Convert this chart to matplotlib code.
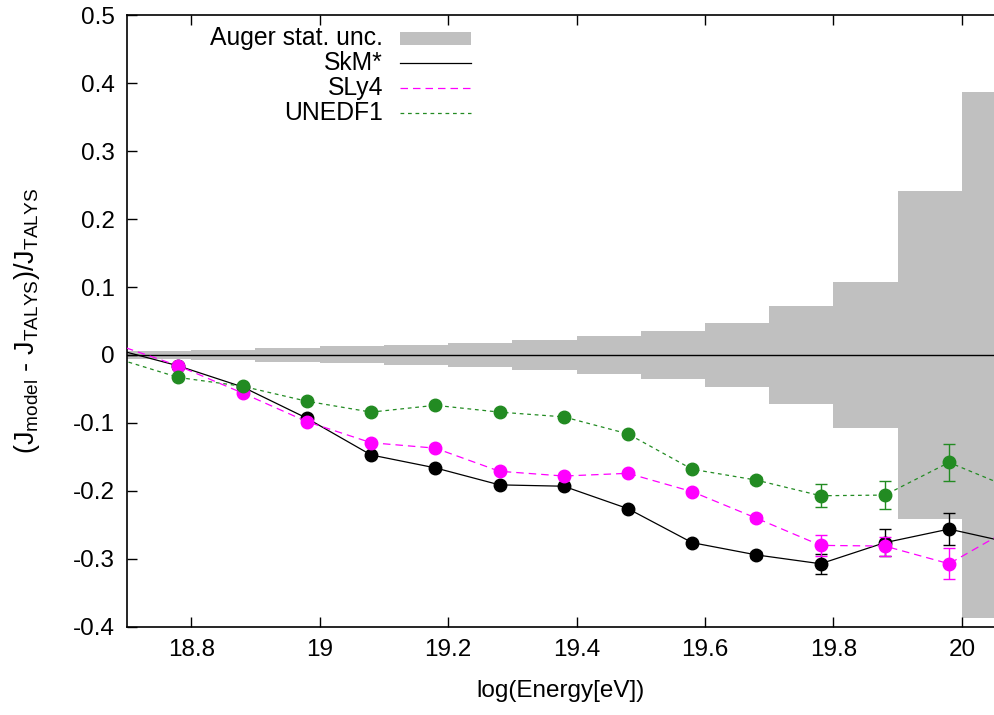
import numpy as np
import matplotlib.pyplot as plt
from matplotlib.patches import Rectangle
from matplotlib.lines import Line2D

plt.rcParams['font.family'] = 'Liberation Sans'
plt.rcParams['mathtext.fontset'] = 'custom'
plt.rcParams['mathtext.rm'] = 'Liberation Sans'
plt.rcParams['mathtext.it'] = 'Liberation Sans'

# Auger statistical uncertainty (symmetric band), bins of 0.1 in log E
unc_edges = np.round(np.arange(18.7, 20.15, 0.1), 2)
unc_half = [0.006, 0.008, 0.010, 0.0125, 0.014, 0.0176, 0.022, 0.028,
            0.035, 0.0475, 0.0725, 0.108, 0.241, 0.387]

# model points (first and last lie just outside the visible range)
logE = [18.68, 18.78, 18.88, 18.98, 19.08, 19.18, 19.28, 19.38, 19.48,
        19.58, 19.68, 19.78, 19.88, 19.98, 20.08]
skm = [0.009, -0.016, -0.047, -0.093, -0.147, -0.166, -0.191, -0.193, -0.226,
       -0.276, -0.294, -0.307, -0.276, -0.256, -0.277]
sly4 = [0.0165, -0.016, -0.056, -0.098, -0.129, -0.137, -0.171, -0.178, -0.174,
        -0.201, -0.240, -0.280, -0.281, -0.307, -0.253]
unedf1 = [-0.004, -0.033, -0.046, -0.068, -0.084, -0.074, -0.084, -0.091, -0.116,
          -0.168, -0.184, -0.207, -0.206, -0.158, -0.197]

skm_err = [0.001, 0.001, 0.001, 0.001, 0.002, 0.002, 0.002, 0.002, 0.003,
           0.003, 0.004, 0.015, 0.020, 0.024, 0.030]
sly4_err = [0.001, 0.001, 0.001, 0.001, 0.002, 0.002, 0.002, 0.002, 0.003,
            0.003, 0.004, 0.015, 0.014, 0.023, 0.030]
unedf1_err = [0.001, 0.001, 0.001, 0.001, 0.002, 0.002, 0.002, 0.002, 0.003,
              0.003, 0.004, 0.017, 0.021, 0.027, 0.030]

fig = plt.figure(figsize=(9.94, 7.15), dpi=100)
ax = fig.add_axes([0.1278, 0.1231, 0.8722, 0.8559])

band_col = '#c0c0c0'
ax.stairs(unc_half, unc_edges, baseline=-np.array(unc_half), fill=True,
          color=band_col, lw=0, zorder=1)
ax.axhline(0, color='black', lw=1.0, zorder=2)

ax.errorbar(logE, skm, yerr=skm_err, color='black', lw=0.9, marker='o', ms=9,
            capsize=4, elinewidth=1.0, capthick=1.0, zorder=3)
ax.errorbar(logE, sly4, yerr=sly4_err, color='#ff00ff', lw=0.9, ls=(0, (6, 4)),
            marker='o', ms=9, capsize=4, elinewidth=1.0, capthick=1.0, zorder=4)
ax.errorbar(logE, unedf1, yerr=unedf1_err, color='#228b22', lw=0.9, ls=(0, (3, 3)),
            marker='o', ms=9, capsize=4, elinewidth=1.0, capthick=1.0, zorder=5)

ax.set_xlim(18.7, 20.05)
ax.set_ylim(-0.4, 0.5)
ax.set_xticks([18.8, 19.0, 19.2, 19.4, 19.6, 19.8, 20.0])
ax.set_xticklabels(['18.8', '19', '19.2', '19.4', '19.6', '19.8', '20'])
ax.set_yticks(np.round(np.arange(-0.4, 0.51, 0.1), 1))
ax.set_yticklabels(['-0.4', '-0.3', '-0.2', '-0.1', '0', '0.1', '0.2', '0.3', '0.4', '0.5'])
ax.tick_params(direction='in', length=7, width=1.0, labelsize=17.5, top=True,
               pad=9)
for s in ['left', 'bottom', 'top']:
    ax.spines[s].set_linewidth(1.2)
ax.spines['right'].set_visible(False)

ax.set_xlabel('log(Energy[eV])', fontsize=17.5, labelpad=13)
ax.set_ylabel(r'(J$_{\mathrm{model}}$ - J$_{\mathrm{TALYS}}$)/J$_{\mathrm{TALYS}}$',
              fontsize=19.5, labelpad=22)

# gnuplot-style key: right-aligned text, sample to the right
labels = ['Auger stat. unc.', 'SkM*', 'SLy4', 'UNEDF1']
ys = [38, 63, 88, 113]
x_text = 383 / 994
x0, x1 = 400 / 994, 471 / 994
for lab, yp in zip(labels, ys):
    fig.text(x_text, 1 - yp / 715, lab, ha='right', va='center', fontsize=17.8)
fig.add_artist(Rectangle((x0, 1 - 45 / 715), x1 - x0, 13 / 715,
                         transform=fig.transFigure, color=band_col, lw=0))
fig.add_artist(Line2D([x0, x1], [1 - 63 / 715] * 2, color='black', lw=0.9,
                      transform=fig.transFigure))
fig.add_artist(Line2D([x0, x1], [1 - 88 / 715] * 2, color='#ff00ff', lw=0.9,
                      ls=(0, (6, 4)), transform=fig.transFigure))
fig.add_artist(Line2D([x0, x1], [1 - 113 / 715] * 2, color='#228b22', lw=0.9,
                      ls=(0, (3, 3)), transform=fig.transFigure))

fig.savefig('out.png', dpi=100)
